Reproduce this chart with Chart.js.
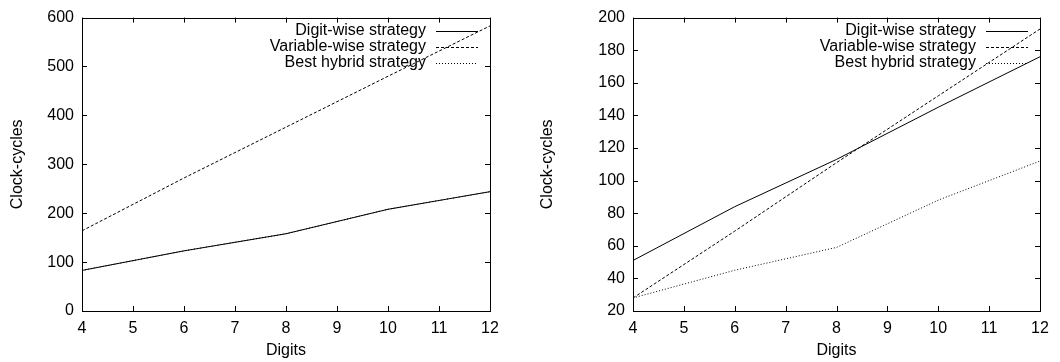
<!DOCTYPE html>
<html>
<head>
<meta charset="utf-8">
<script src="https://cdn.jsdelivr.net/npm/chart.js@4"></script>
<style>
  body { margin: 0; background: #fff; }
  .wrap { position: absolute; top: 0; width: 530px; height: 362px; }
</style>
</head>
<body>
<div class="wrap" style="left:0"><canvas id="left" width="530" height="362"></canvas></div>
<div class="wrap" style="left:530px"><canvas id="right" width="530" height="362"></canvas></div>
<script>
// data
const digits = [4, 6, 8, 10, 12];
const seriesNames = ['Digit-wise strategy', 'Variable-wise strategy', 'Best hybrid strategy'];

// left plot
const leftDigitWise = [83, 123, 158, 208, 244];
const leftVariableWise = [164, 272, 376, 480, 583];
const leftHybrid = [83, 123, 158, 208, 244];
const leftYTicks = [0, 100, 200, 300, 400, 500, 600];

// right plot
const rightDigitWise = [51, 84, 113, 145, 176];
const rightVariableWise = [28, 69, 111, 152, 193];
const rightHybrid = [28, 45, 59, 88, 112];
const rightYTicks = [20, 40, 60, 80, 100, 120, 140, 160, 180, 200];

const xTicks = [4, 5, 6, 7, 8, 9, 10, 11, 12];

const FONT = 'Liberation Sans, Arial, Helvetica, sans-serif';
const SIZE = 16;
const dashes = [[], [3, 2], [1, 2]];

// box border, inward ticks on all four sides, and gnuplot style key
const gnuplotFrame = {
  id: 'gnuplotFrame',
  afterDatasetsDraw(chart) {
    const ctx = chart.ctx;
    const a = chart.chartArea;
    const xs = chart.scales.x;
    const ys = chart.scales.y;
    const t = 5;
    ctx.save();
    ctx.strokeStyle = '#000';
    ctx.lineWidth = 1;
    ctx.setLineDash([]);
    ctx.beginPath();
    xTicks.forEach((v) => {
      const px = Math.round(xs.getPixelForValue(v)) + 0.5;
      ctx.moveTo(px, a.bottom); ctx.lineTo(px, a.bottom - t);
      ctx.moveTo(px, a.top); ctx.lineTo(px, a.top + t);
    });
    chart.options.yTickValues.forEach((v) => {
      const py = Math.round(ys.getPixelForValue(v)) + 0.5;
      ctx.moveTo(a.left, py); ctx.lineTo(a.left + t, py);
      ctx.moveTo(a.right, py); ctx.lineTo(a.right - t, py);
    });
    ctx.stroke();
    ctx.strokeRect(Math.round(a.left) + 0.5, Math.round(a.top) + 0.5,
      Math.round(a.right - a.left), Math.round(a.bottom - a.top));

    // key, top right
    ctx.font = SIZE + 'px ' + FONT;
    ctx.fillStyle = '#000';
    ctx.textAlign = 'right';
    ctx.textBaseline = 'middle';
    const sampleEnd = a.right - 12;
    const sampleStart = sampleEnd - 42;
    chart.data.datasets.forEach((ds, i) => {
      const y = a.top + 13 + i * 16;
      ctx.fillText(ds.label, sampleStart - 10, y);
      ctx.setLineDash(ds.borderDash || []);
      ctx.beginPath();
      ctx.moveTo(sampleStart, Math.round(y) + 0.5);
      ctx.lineTo(sampleEnd, Math.round(y) + 0.5);
      ctx.stroke();
    });
    ctx.restore();
  }
};

function makeChart(id, series, yMin, yMax, yStep, yTickValues, leftWidth, rightPad) {
  const datasets = series.map((vals, i) => ({
    label: seriesNames[i],
    data: digits.map((d, j) => ({ x: d, y: vals[j] })),
    borderColor: '#000',
    borderWidth: 1,
    borderDash: dashes[i],
    pointRadius: 0,
    tension: 0,
    fill: false
  }));
  return new Chart(document.getElementById(id), {
    type: 'line',
    data: { datasets: datasets },
    options: {
      responsive: false,
      animation: false,
      yTickValues: yTickValues,
      layout: { padding: { top: 12, right: rightPad, left: 0, bottom: 0 } },
      plugins: { legend: { display: false }, tooltip: { enabled: false } },
      scales: {
        x: {
          type: 'linear',
          min: 4,
          max: 12,
          grid: { display: false, drawTicks: false },
          border: { display: false },
          ticks: { stepSize: 1, color: '#000', padding: 8, font: { family: FONT, size: SIZE } },
          title: { display: true, text: 'Digits', color: '#000', padding: { top: 2, bottom: 2 }, font: { family: FONT, size: SIZE } },
          afterFit: (s) => { s.height = 51; }
        },
        y: {
          min: yMin,
          max: yMax,
          grid: { display: false, drawTicks: false },
          border: { display: false },
          ticks: { stepSize: yStep, color: '#000', padding: 8, font: { family: FONT, size: SIZE } },
          title: { display: true, text: 'Clock-cycles', color: '#000', padding: { top: 8, bottom: 0 }, font: { family: FONT, size: SIZE } },
          afterFit: (s) => { s.width = leftWidth; }
        }
      }
    },
    plugins: [gnuplotFrame]
  });
}

makeChart('left', [leftDigitWise, leftVariableWise, leftHybrid], 0, 600, 100, leftYTicks, 82, 40);
makeChart('right', [rightDigitWise, rightVariableWise, rightHybrid], 20, 200, 20, rightYTicks, 103, 20);
</script>
</body>
</html>
